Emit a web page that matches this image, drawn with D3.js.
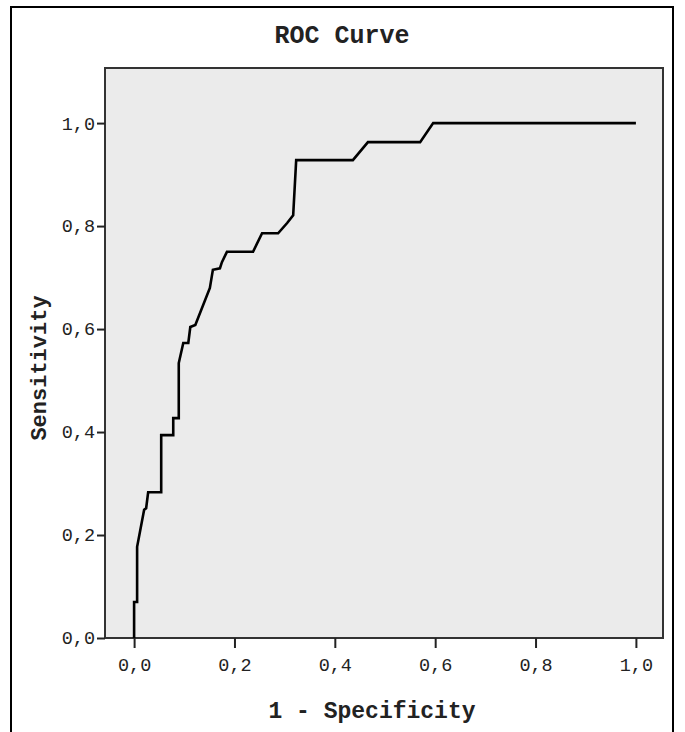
<!DOCTYPE html>
<html>
<head>
<meta charset="utf-8">
<script src="https://cdn.jsdelivr.net/npm/d3@7"></script>
<style>
body { margin: 0; background: #fff; }
svg { display: block; }
</style>
</head>
<body>
<svg id="roc"></svg>
<script>
// ROC points (1 - specificity, sensitivity)
var fpr = [0, 0, 0.006, 0.006, 0.020, 0.024, 0.028, 0.054, 0.054, 0.078, 0.078, 0.089, 0.089,
  0.098, 0.108, 0.112, 0.122, 0.151, 0.157, 0.171, 0.175, 0.185, 0.237, 0.255, 0.287,
  0.305, 0.317, 0.323, 0.436, 0.466, 0.570, 0.596, 1.0];
var tpr = [0, 0.070, 0.070, 0.177, 0.249, 0.252, 0.283, 0.283, 0.394, 0.394, 0.427, 0.427, 0.534,
  0.573, 0.573, 0.604, 0.608, 0.680, 0.715, 0.718, 0.730, 0.750, 0.750, 0.786, 0.786,
  0.806, 0.821, 0.928, 0.928, 0.963, 0.963, 1.0, 1.0];
var xTicks = [0, 0.2, 0.4, 0.6, 0.8, 1.0];
var yTicks = [0, 0.2, 0.4, 0.6, 0.8, 1.0];

var width = 685;
var height = 732;
var plotL = 105, plotR = 663, plotT = 68, plotB = 638;
var font = "'Liberation Mono', 'DejaVu Sans Mono', monospace";

var svg = d3.select("#roc")
  .attr("width", width)
  .attr("height", height);

// outer frame
svg.append("rect")
  .attr("x", 11).attr("y", 7)
  .attr("width", 662).attr("height", 740)
  .attr("fill", "none")
  .attr("stroke", "#000")
  .attr("stroke-width", 2);

var x = d3.scaleLinear().domain([-0.058, 1.054]).range([plotL, plotR]);
var y = d3.scaleLinear().domain([0, 1.107]).range([plotB, plotT]);

var fmt = function(d) { return d3.format(".1f")(d).replace(".", ","); };

svg.append("rect")
  .attr("x", plotL).attr("y", plotT)
  .attr("width", plotR - plotL).attr("height", plotB - plotT)
  .attr("fill", "#ebebeb")
  .attr("stroke", "#333")
  .attr("stroke-width", 2);

var xAxis = svg.append("g")
  .attr("transform", "translate(0," + plotB + ")")
  .call(d3.axisBottom(x).tickValues(xTicks).tickFormat(fmt).tickSize(10).tickPadding(10));

var yAxis = svg.append("g")
  .attr("transform", "translate(" + plotL + ",0)")
  .call(d3.axisLeft(y).tickValues(yTicks).tickFormat(fmt).tickSize(8).tickPadding(2));

[xAxis, yAxis].forEach(function(g) {
  g.select(".domain").remove();
  g.selectAll("line").attr("stroke", "#222").attr("stroke-width", 2);
  g.selectAll("text")
    .attr("font-family", font)
    .attr("font-size", 18.5)
    .attr("fill", "#222");
});

var pts = fpr.map(function(d, i) { return [d, tpr[i]]; });

var line = d3.line()
  .x(function(d) { return x(d[0]); })
  .y(function(d) { return y(d[1]); });

svg.append("path")
  .datum(pts)
  .attr("d", line)
  .attr("fill", "none")
  .attr("stroke", "#000")
  .attr("stroke-width", 2.6)
  .attr("stroke-linejoin", "miter");

svg.append("text")
  .attr("x", 342).attr("y", 43)
  .attr("text-anchor", "middle")
  .attr("font-family", font)
  .attr("font-weight", "bold")
  .attr("font-size", 25)
  .attr("fill", "#222")
  .text("ROC Curve");

svg.append("text")
  .attr("x", 372).attr("y", 718)
  .attr("text-anchor", "middle")
  .attr("font-family", font)
  .attr("font-weight", "bold")
  .attr("font-size", 23)
  .attr("fill", "#222")
  .text("1 - Specificity");

svg.append("text")
  .attr("transform", "translate(46,368) rotate(-90)")
  .attr("text-anchor", "middle")
  .attr("font-family", font)
  .attr("font-weight", "bold")
  .attr("font-size", 22)
  .attr("fill", "#222")
  .text("Sensitivity");
</script>
</body>
</html>
